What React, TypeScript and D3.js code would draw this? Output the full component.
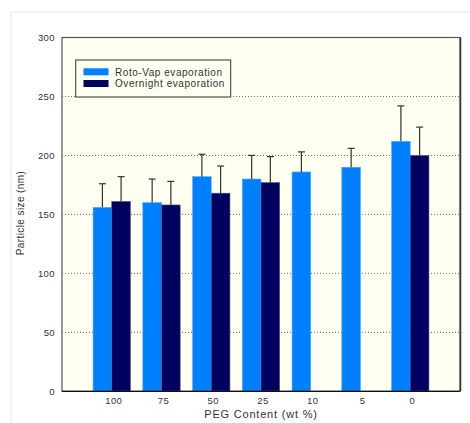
import React from "react";
import * as d3 from "d3";

const categories = ["100", "75", "50", "25", "10", "5", "0"];
const rotoVap: (number | null)[] = [156, 160, 182, 180, 186, 190, 212];
const rotoVapErr: (number | null)[] = [20, 20, 19, 20, 17, 16, 30];
const overnight: (number | null)[] = [161, 158, 168, 177, null, null, 200];
const overnightErr: (number | null)[] = [21, 20, 23, 22, null, null, 24];
const yTicks = [0, 50, 100, 150, 200, 250, 300];
const seriesNames = ["Roto-Vap evaporation", "Overnight evaporation"];

export default function App() {
  const left = 62, right = 460, top = 37.5, bottom = 391.3;
  const x = d3.scalePoint<string>().domain(categories).range([left, right]).padding(1);
  const y = d3.scaleLinear().domain([0, 300]).range([bottom, top]);
  const bw = 18.7;
  const colors = ["#0080ff", "#000060"];
  const strokes = ["#5aaaf8", "#5a5a80"];
  const series = [
    { vals: rotoVap, errs: rotoVapErr, off: -bw },
    { vals: overnight, errs: overnightErr, off: 0 },
  ];
  const font = "Liberation Sans, Arial, sans-serif";
  return (
    <svg width={470} height={423} style={{ position: "absolute", left: 0, top: 0 }} fontFamily={font}>
      <rect x={0} y={0} width={470} height={423} fill="#fff" />
      <line x1={11} x2={470} y1={12} y2={12} stroke="#e6e6e6" />
      <line x1={11} x2={11} y1={12} y2={423} stroke="#e6e6e6" />
      <rect x={left} y={top} width={right - left} height={bottom - top} fill="#fffff2" />
      {yTicks.slice(1, -1).map((t) => (
        <line key={t} x1={left} x2={right} y1={y(t)} y2={y(t)} stroke="#666" strokeDasharray="1,2" />
      ))}
      {series.map((s, si) =>
        categories.map((c, i) => {
          const v = s.vals[i];
          if (v == null) return null;
          const bx = (x(c) as number) + s.off;
          return (
            <rect key={si + "-" + c} x={bx} y={y(v)} width={bw} height={bottom - y(v)}
              fill={colors[si]} stroke={strokes[si]} strokeWidth={0.6} />
          );
        })
      )}
      {series.map((s, si) =>
        categories.map((c, i) => {
          const v = s.vals[i];
          const e = s.errs[i];
          if (v == null || e == null) return null;
          const cx = (x(c) as number) + s.off + bw / 2;
          return (
            <g key={"e" + si + c} stroke="#333" strokeWidth={1.2}>
              <line x1={cx} x2={cx} y1={y(v)} y2={y(v + e)} />
              <line x1={cx - 3.5} x2={cx + 3.5} y1={y(v + e)} y2={y(v + e)} />
            </g>
          );
        })
      )}
      <rect x={left} y={top} width={right - left} height={bottom - top} fill="none" stroke="#555" strokeWidth={1.2} />
      <line x1={right + 0.5} x2={right + 0.5} y1={top} y2={bottom} stroke="#333" strokeWidth={1.5} />
      <line x1={left} x2={right} y1={bottom} y2={bottom} stroke="#111" strokeWidth={1.2} />
      {yTicks.map((t) => (
        <text key={t} x={55} y={y(t)} dy="0.35em" textAnchor="end" fontSize={9.5} letterSpacing={0.4} fill="#333">{t}</text>
      ))}
      {categories.map((c) => (
        <text key={c} x={(x(c) as number) + 2} y={404} textAnchor="middle" fontSize={9.5} letterSpacing={0.4} fill="#333">{c}</text>
      ))}
      <text x={261} y={418} textAnchor="middle" fontSize={11} letterSpacing={0.8} fill="#333">PEG Content (wt %)</text>
      <text transform={`translate(24,213) rotate(-90)`} textAnchor="middle" fontSize={10} letterSpacing={0.4} fill="#333">Particle size (nm)</text>
      <rect x={75.7} y={60} width={155} height={37} fill="#fffff2" stroke="#333" strokeWidth={1} />
      {seriesNames.map((n, i) => (
        <g key={n}>
          <rect x={83.5} y={68.3 + i * 11.7} width={25} height={7} fill={colors[i]} />
          <text x={115} y={72 + i * 11.7} dy="0.35em" fontSize={10} letterSpacing={0.55} fill="#333">{n}</text>
        </g>
      ))}
    </svg>
  );
}
